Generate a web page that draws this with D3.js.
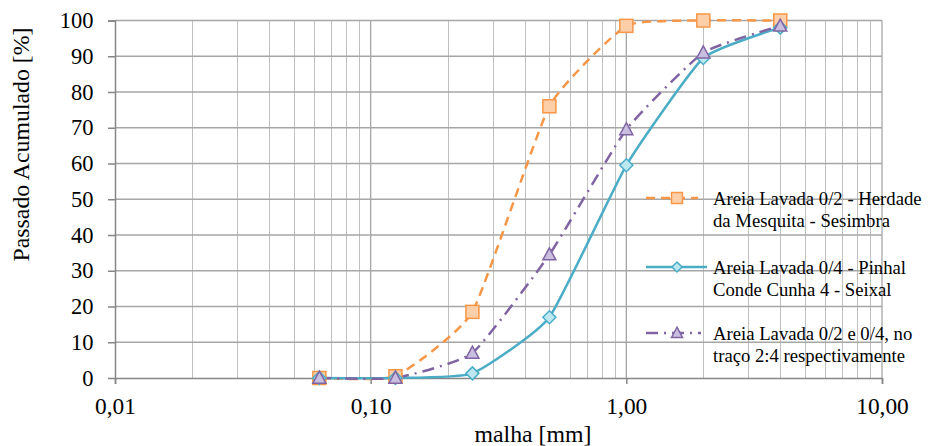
<!DOCTYPE html>
<html><head><meta charset="utf-8">
<script src="https://cdn.jsdelivr.net/npm/d3@7"></script>
<style>body{margin:0;background:#fff}svg{display:block}</style>
</head><body><svg id="c" width="929" height="446"></svg>
<script>
const sieves = [0.063, 0.125, 0.25, 0.5, 1, 2, 4];
const herdade = [0, 0.5, 18.5, 76, 98.5, 100, 100];
const pinhal = [0, 0, 1.3, 17, 59.5, 89.5, 98];
const mistura = [0, 0, 7, 34.5, 69.5, 91, 98.5];
const seriesNames = [
  ["Areia Lavada 0/2 - Herdade", "da Mesquita - Sesimbra"],
  ["Areia Lavada 0/4 - Pinhal", "Conde Cunha 4 - Seixal"],
  ["Areia Lavada 0/2 e 0/4, no", "traço 2:4 respectivamente"]
];
const xTickLabels = ["0,01", "0,10", "1,00", "10,00"];
const yTicks = [0,10,20,30,40,50,60,70,80,90,100];

const FONT = '"Liberation Serif"';
const svg = d3.select("#c");
const L = 115, R = 882, T = 20.5, B = 378;
const x = d3.scaleLog().domain([0.01, 10]).range([L, R]);
const y = d3.scaleLinear().domain([0, 100]).range([B, T]);

// grid
const minor = [];
for (let d = 0.01; d < 10; d *= 10) for (let k = 2; k <= 9; k++) minor.push(d * k);
svg.append("g").selectAll("line").data(minor).join("line")
  .attr("x1", d => Math.round(x(d)) + 0.5).attr("x2", d => Math.round(x(d)) + 0.5)
  .attr("y1", T).attr("y2", B).attr("stroke", "#c0c0c0").attr("stroke-width", 1);
svg.append("g").selectAll("line").data([0.1, 1, 10]).join("line")
  .attr("x1", d => x(d)).attr("x2", d => x(d))
  .attr("y1", T).attr("y2", B).attr("stroke", "#a6a6a6").attr("stroke-width", 1.3);
svg.append("g").selectAll("line").data(yTicks.slice(1)).join("line")
  .attr("x1", L).attr("x2", R).attr("y1", d => y(d)).attr("y2", d => y(d))
  .attr("stroke", "#a6a6a6").attr("stroke-width", 1.3);

// axes
const yAxis = d3.axisLeft(y).tickValues(yTicks).tickSize(7).tickPadding(14.5).tickFormat(d3.format("d"));
const gy = svg.append("g").attr("transform", `translate(${L},0)`).call(yAxis);
gy.select(".domain").attr("stroke", "#868686").attr("stroke-width", 1.5);
gy.selectAll(".tick line").attr("stroke", "#868686").attr("stroke-width", 1.5);
gy.selectAll(".tick text").style("font-family", FONT).style("font-size", "22.5px").attr("fill", "#000");
gy.selectAll(".tick").filter(d => d === 0).select("line").remove();

const xAxis = d3.axisBottom(x).tickValues([0.01, 0.1, 1, 10]).tickSize(6).tickPadding(13.4)
  .tickFormat((d, i) => xTickLabels[i]);
const gx = svg.append("g").attr("transform", `translate(0,${B})`).call(xAxis);
gx.select(".domain").attr("stroke", "#868686").attr("stroke-width", 1.5);
gx.selectAll(".tick line").attr("stroke", "#868686").attr("stroke-width", 1.5);
gx.selectAll(".tick text").style("font-family", FONT).style("font-size", "23.4px").attr("fill", "#000");

svg.append("text").attr("x", 533).attr("y", 442).attr("text-anchor", "middle")
  .style("font-family", FONT).style("font-size", "23.8px").text("malha [mm]");
svg.append("text").attr("transform", "translate(29,144.5) rotate(-90)").attr("text-anchor", "middle")
  .style("font-family", FONT).style("font-size", "23.8px").text("Passado Acumulado [%]");

const styles = [
  {data: herdade, color: "#F79646", fill: "#FCCFA8", dash: "9,6", marker: "square"},
  {data: pinhal, color: "#4BACC6", fill: "#BDE8F2", dash: null, marker: "diamond"},
  {data: mistura, color: "#8064A2", fill: "#C9BDE0", dash: "12,6,2,6", marker: "triangle"}
];
const line = d3.line().x(d => x(d[0])).y(d => y(d[1])).curve(d3.curveCardinal.tension(0.55));

function marker(g, type, cx, cy, s, st) {
  let p;
  if (type === "square") p = g.append("rect").attr("x", cx - s).attr("y", cy - s).attr("width", 2*s).attr("height", 2*s);
  else if (type === "diamond") p = g.append("path").attr("d", `M${cx},${cy-s}L${cx+s},${cy}L${cx},${cy+s}L${cx-s},${cy}Z`);
  else p = g.append("path").attr("d", `M${cx},${cy-s*1.05}L${cx+s},${cy+s*0.8}L${cx-s},${cy+s*0.8}Z`);
  p.attr("fill", st.fill).attr("stroke", st.color).attr("stroke-width", 1.5);
}

styles.forEach(st => {
  const pts = sieves.map((s, i) => [s, st.data[i]]);
  svg.append("path").datum(pts).attr("d", line).attr("fill", "none")
    .attr("stroke", st.color).attr("stroke-width", 2.5).attr("stroke-dasharray", st.dash);
});
styles.forEach(st => {
  const g = svg.append("g");
  sieves.forEach((s, i) => marker(g, st.marker, x(s), y(st.data[i]), 6.5, st));
});

// legend
const legY = [198, 267, 333];
const legEnd = [698, 707, 701];
styles.forEach((st, i) => {
  const g = svg.append("g");
  g.append("line").attr("x1", 646).attr("x2", legEnd[i]).attr("y1", legY[i]).attr("y2", legY[i])
    .attr("stroke", st.color).attr("stroke-width", 2.5).attr("stroke-dasharray", st.dash);
  marker(g, st.marker, 677, legY[i], st.marker === "diamond" ? 5 : 5.5, st);
  seriesNames[i].forEach((t, j) => {
    g.append("text").attr("x", 713).attr("y", legY[i] + 6.5 + j * 22.5)
      .style("font-family", FONT).style("font-size", "18.7px").text(t);
  });
});
</script></body></html>
